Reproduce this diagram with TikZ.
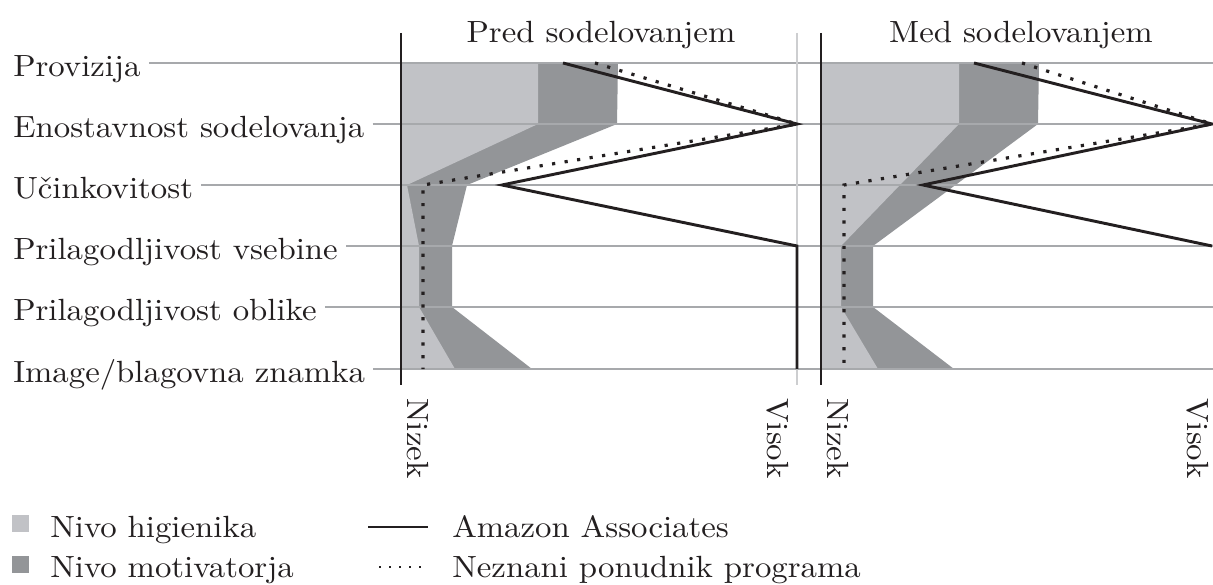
\documentclass[tikz,border=0pt]{standalone}
\usepackage{fontspec}
\setmainfont{lmroman10-regular.otf}[FakeStretch=1.07]
\definecolor{ink}{HTML}{231F20}
\definecolor{hyg}{HTML}{C1C2C6}
\definecolor{mot}{HTML}{939598}
\definecolor{rulegrey}{HTML}{A7A9AC}
\definecolor{framegrey}{HTML}{CDCED0}
\tikzset{
  txt/.style={inner sep=0pt, text=ink, font=\fontsize{23}{27}\selectfont},
  lbl/.style={txt, anchor=base west},
  scalelbl/.style={txt, anchor=base west, rotate=-90},
  rowline/.style={draw=rulegrey, line width=1.5pt},
  axisline/.style={draw=ink, line width=2.2pt},
  highline/.style={draw=framegrey, line width=1.1pt},
  amazon/.style={draw=ink, line width=2.2pt, line join=miter},
  unknown/.style={draw=ink, line width=2.4pt, dash pattern=on 2.4pt off 7.1pt},
  hygfill/.style={fill=hyg, draw=none},
  motfill/.style={fill=mot, draw=none},
}
\begin{document}
\begin{tikzpicture}[x=0.75pt, y=-0.75pt]
\useasboundingbox (0,0) rectangle (1213,585);

% ---- fills: motivators underneath, hygiene factors on top ----
\fill[motfill] (401,63) -- (618,63) -- (617,124) -- (467,185) -- (452,246) -- (452,307) -- (532,369) -- (401,369) -- cycle;
\fill[hygfill] (401,63) -- (538,63) -- (538,124) -- (407,185) -- (419,246) -- (419,307) -- (455,369) -- (401,369) -- cycle;
\fill[motfill] (821,63) -- (1039,63) -- (1038,124) -- (873,246) -- (873,307) -- (954,369) -- (821,369) -- cycle;
\fill[hygfill] (821,63) -- (959,63) -- (959,124) -- (841,246) -- (841,307) -- (878,369) -- (821,369) -- cycle;

% ---- criteria and their row lines ----
\node[lbl] (c1) at (13,76) {Provizija};
\node[lbl] (c2) at (13,137) {Enostavnost sodelovanja};
\node[lbl] (c3) at (13,198) {Učinkovitost};
\node[lbl] (c4) at (13,259) {Prilagodljivost vsebine};
\node[lbl] (c5) at (13,320) {Prilagodljivost oblike};
\node[lbl] (c6) at (13,382) {Image/blagovna znamka};
\coordinate (e1) at (1213,63);
\coordinate (e2) at (1213,124);
\coordinate (e3) at (1213,185);
\coordinate (e4) at (1213,246);
\coordinate (e5) at (1213,307);
\coordinate (e6) at (1213,369);
\foreach \i in {1,...,6}
  \draw[rowline] ([xshift=6pt]c\i.east |- e\i) -- (e\i);

% ---- panel frames ----
\coordinate (lowA) at (401,33);  \coordinate (lowAb) at (401,385);
\coordinate (highA) at (797,33); \coordinate (highAb) at (797,385);
\coordinate (lowB) at (821,33);  \coordinate (lowBb) at (821,385);
\draw[highline] (highA) -- (highAb);
\draw[axisline] (lowA) -- (lowAb);
\draw[axisline] (lowB) -- (lowBb);

\node[txt, anchor=base] (tA) at (601,43) {Pred sodelovanjem};
\node[txt, anchor=base] (tB) at (1021,43) {Med sodelovanjem};

\node[scalelbl] (nA) at (407,398) {Nizek};
\node[scalelbl] (vA) at (767,398) {Visok};
\node[scalelbl] (nB) at (827,398) {Nizek};
\node[scalelbl] (vB) at (1187,398) {Visok};

% ---- profiles: before ----
\draw[amazon] (563,63) -- (797,124) -- (502,185) -- (797,246) -- (797,369);
\draw[unknown] (595,63) -- (797,124) -- (423,185) -- (423,369);

% ---- profiles: during ----
\draw[amazon] (974,63) -- (1212,124) -- (923,185) -- (1212,246);
\draw[unknown] (1022,63) -- (1212,124) -- (844,185) -- (844,369);

% ---- legend ----
\fill[hygfill] (12,515) rectangle (29,532);
\fill[motfill] (12,556) rectangle (29,573);
\node[lbl] (l1) at (50,537) {Nivo higienika};
\node[lbl] (l2) at (50,577) {Nivo motivatorja};
\coordinate (s1a) at (368,527); \coordinate (s1b) at (428,527);
\coordinate (s2a) at (379,567); \coordinate (s2b) at (428,567);
\draw[draw=ink, line width=1.6pt] (s1a) -- (s1b);
\draw[draw=ink, line width=1.6pt, dash pattern=on 1.6pt off 5.9pt] (s2a) -- (s2b);
\node[lbl] (l3) at (452,537) {Amazon Associates};
\node[lbl] (l4) at (452,577) {Neznani ponudnik programa};
\end{tikzpicture}
\end{document}
